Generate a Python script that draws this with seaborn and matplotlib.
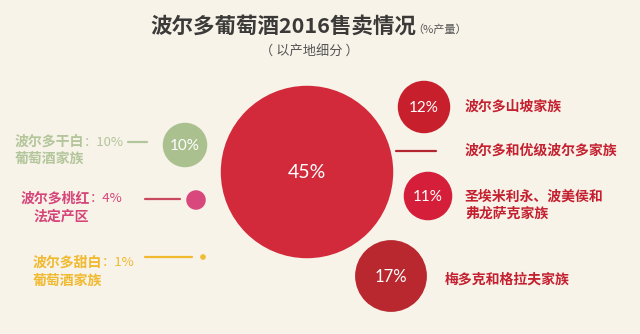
import matplotlib
matplotlib.use("Agg")
import matplotlib.pyplot as plt
import seaborn as sns
import pandas as pd

sns.set_theme(style="white")
plt.rcParams["font.family"] = ["Noto Sans CJK SC", "DejaVu Sans"]

# Bordeaux wine sales 2016, share of volume by appellation family
families = ["波尔多和优级波尔多家族", "梅多克和格拉夫家族", "波尔多山坡家族",
            "圣埃米利永、波美侯和\n弗龙萨克家族", "波尔多干白葡萄酒家族",
            "波尔多桃红法定产区", "波尔多甜白葡萄酒家族"]
shares = [45, 17, 12, 11, 10, 4, 1]
share_labels = [f"{v}%" for v in shares]

# bubble layout (canvas units, y grows downward)
pos_x = [307, 391, 424, 428, 185, 196, 203]
pos_y = [172, 276, 107, 196, 145, 200, 257]
colors = ["#d22a3a", "#b8282e", "#c81f2d", "#d41e3a", "#aac18f", "#d9487c", "#f0bc35"]

BG = "#f7f3e9"
RED_TXT = "#c4202f"

df = pd.DataFrame({"family": families, "share": shares, "x": pos_x, "y": pos_y})

# marker area grows a bit slower than the share
size_map = {v: 16.3 * v ** 1.8 for v in shares}

fig = plt.figure(figsize=(6.4, 3.34), dpi=100, facecolor=BG)
ax = fig.add_axes([0, 0, 1, 1])
ax.set_facecolor(BG)

sns.scatterplot(data=df, x="x", y="y", hue="family", palette=dict(zip(families, colors)),
                size="share", sizes=size_map, legend=False, linewidth=0, alpha=1,
                ax=ax, zorder=2)

ax.set_xlim(0, 640)
ax.set_ylim(334, 0)
ax.axis("off")

# percentage labels inside bubbles
num_sizes = [14, 12, 11, 11, 11, 0, 0]
for x, y, lab, fs in zip(pos_x, pos_y, share_labels, num_sizes):
    if fs:
        ax.text(x, y + 1, lab, color="white", fontsize=fs, ha="center", va="center",
                family=["Lato", "DejaVu Sans"], zorder=10)

# title
ax.text(150, 26, "波尔多葡萄酒2016售卖情况", fontsize=15.5, fontweight="heavy",
        color="#3b3a38", ha="left", va="center", zorder=10)
ax.text(412, 30, "（%产量）", fontsize=8, color="#555555", ha="left", va="center")
ax.text(309, 52, "（ 以产地细分 ）", fontsize=9.5, color="#555555", ha="center", va="center")

lw = 1.6
# left side labels
green = "#b3c59a"
ax.text(15, 142, "波尔多干白", fontsize=10, fontweight="bold", color=green, ha="left", va="center")
ax.text(84, 142, "：10%", fontsize=9.5, color=green, ha="left", va="center")
ax.text(15, 159, "葡萄酒家族", fontsize=10, fontweight="bold", color=green, ha="left", va="center")
ax.plot([128, 147], [142, 142], color=green, lw=lw)

pink = "#d6457a"
ax.text(90, 199, "波尔多桃红", fontsize=10, fontweight="bold", color=pink, ha="right", va="center")
ax.text(90, 199, "：4%", fontsize=9.5, color=pink, ha="left", va="center")
ax.text(89, 217, "法定产区", fontsize=10, fontweight="bold", color=pink, ha="right", va="center")
ax.plot([145, 180], [199, 199], color="#c9485e", lw=lw)

yellow = "#f0b92e"
ax.text(33, 263, "波尔多甜白", fontsize=10, fontweight="bold", color=yellow, ha="left", va="center")
ax.text(102, 263, "：1%", fontsize=9.5, color=yellow, ha="left", va="center")
ax.text(33, 281, "葡萄酒家族", fontsize=10, fontweight="bold", color=yellow, ha="left", va="center")
ax.plot([145, 192], [257, 257], color=yellow, lw=lw)

# right side labels
ax.text(465, 107, "波尔多山坡家族", fontsize=10, fontweight="bold", color=RED_TXT, ha="left", va="center")
ax.text(465, 151, "波尔多和优级波尔多家族", fontsize=10, fontweight="bold", color=RED_TXT, ha="left", va="center")
ax.plot([396, 436], [151, 151], color="#b4262e", lw=lw)
ax.text(465, 197, "圣埃米利永、波美侯和", fontsize=10, fontweight="bold", color=RED_TXT, ha="left", va="center")
ax.text(465, 214, "弗龙萨克家族", fontsize=10, fontweight="bold", color=RED_TXT, ha="left", va="center")
ax.text(445, 280, "梅多克和格拉夫家族", fontsize=10, fontweight="bold", color=RED_TXT, ha="left", va="center")

fig.savefig("out.png", dpi=100, facecolor=BG)
